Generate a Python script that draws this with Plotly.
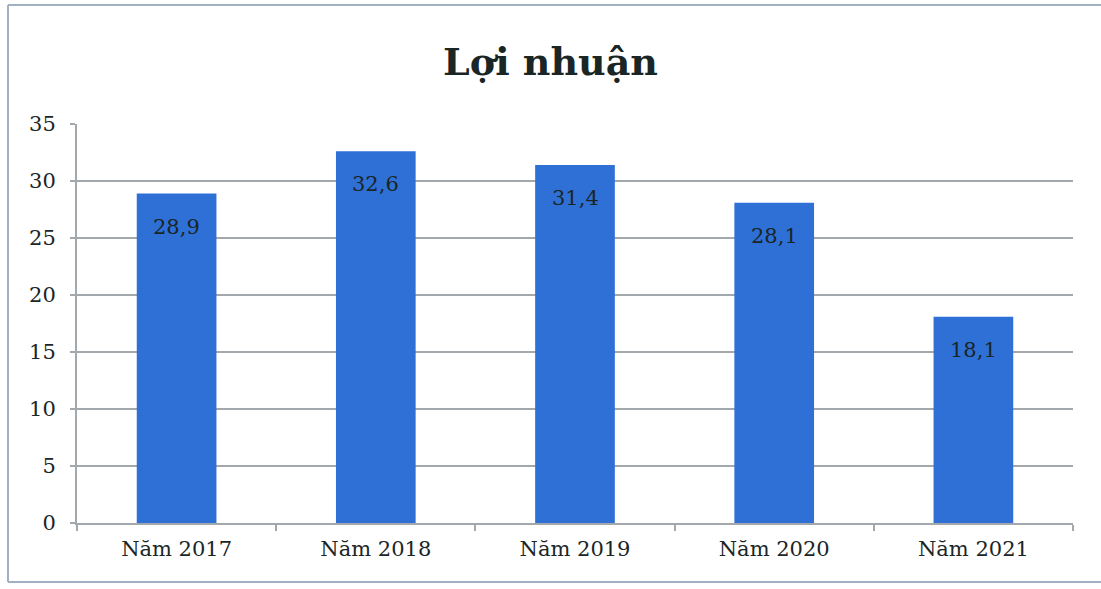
import plotly.graph_objects as go

categories = ["Năm 2017", "Năm 2018", "Năm 2019", "Năm 2020", "Năm 2021"]
profit = [28.9, 32.6, 31.4, 28.1, 18.1]
value_labels = ["28,9", "32,6", "31,4", "28,1", "18,1"]
title_text = "Lợi nhuận"

W, H = 1101, 589
L, R, T, B = 77, 28, 124, 66
FONT = "DejaVu Serif, Liberation Serif, serif"
INK = "#1a2626"
GRID = "#a3a8ad"
BAR = "#2f70d6"


def px_x(p):
    return (p - L) / (W - L - R)


def px_y(p):
    return 1 - (p - T) / (H - T - B)


fig = go.Figure(
    go.Bar(x=categories, y=profit, marker_color=BAR, width=0.4,
           marker_line_width=0, hoverinfo="x+y")
)

for cat, val, lab in zip(categories, profit, value_labels):
    fig.add_annotation(x=cat, y=val, text=lab, showarrow=False, yanchor="top",
                       yshift=-19, font=dict(family=FONT, size=21, color=INK))

# outer chart-area frame (top, left, bottom; right edge cut off in the original)
frame = dict(type="line", xref="paper", yref="paper",
             line=dict(color="#9fb1c2", width=2))
fig.add_shape(**frame, x0=px_x(8), x1=px_x(W + 5), y0=px_y(5), y1=px_y(5))
fig.add_shape(**frame, x0=px_x(8), x1=px_x(8), y0=px_y(5), y1=px_y(582))
fig.add_shape(**frame, x0=px_x(8), x1=px_x(W + 5), y0=px_y(582), y1=px_y(582))

fig.update_layout(
    width=W, height=H,
    margin=dict(l=L, r=R, t=T, b=B),
    paper_bgcolor="white", plot_bgcolor="white",
    showlegend=False,
    title=dict(text=f"<b>{title_text}</b>", x=0.5, xanchor="center",
               y=1 - 62 / H, yanchor="middle",
               font=dict(family=FONT, size=38, color=INK)),
    font=dict(family=FONT, size=21, color=INK),
)
fig.update_xaxes(
    showline=True, linecolor=GRID, linewidth=2,
    ticks="outside", tickson="boundaries", ticklen=6, tickcolor=GRID, tickwidth=2,
    ticklabelstandoff=6,
    tickfont=dict(family=FONT, size=21, color=INK),
)
fig.update_yaxes(
    range=[0, 35], dtick=5, showgrid=True, gridcolor=GRID, gridwidth=2,
    showline=True, linecolor=GRID, linewidth=2, zeroline=False,
    ticks="outside", ticklen=5, tickcolor=GRID, tickwidth=2,
    ticklabelstandoff=10,
    tickfont=dict(family=FONT, size=21, color=INK),
)

fig.write_html("out.html", config={"displayModeBar": False},
               post_script="document.body.style.margin='0';")
